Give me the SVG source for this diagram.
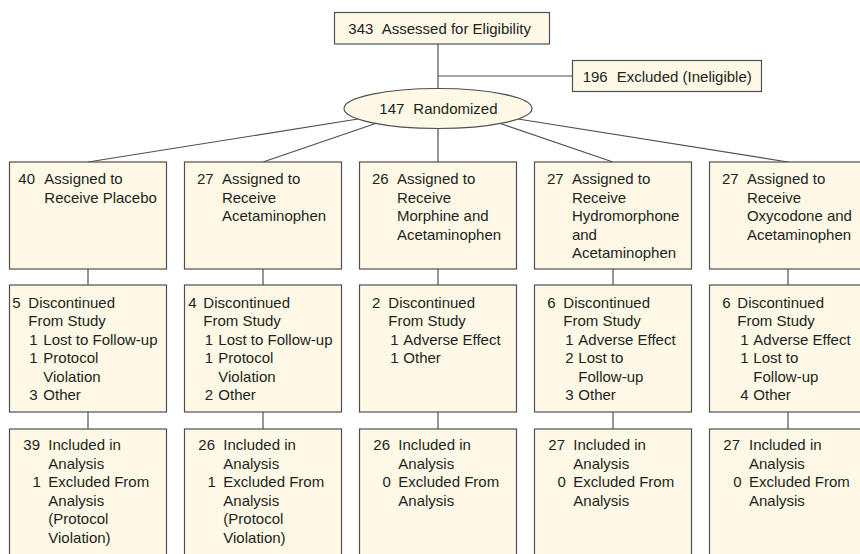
<svg xmlns="http://www.w3.org/2000/svg" width="860" height="554" viewBox="0 0 860 554">
<style>
.box{fill:#fdf9e6;stroke:#505050;stroke-width:1.2}
.ln{stroke:#505050;stroke-width:1.2;fill:none}
text{font-family:"Liberation Sans",Arial,Helvetica,sans-serif;font-size:15px;fill:#231f20}
</style>
<rect width="860" height="554" fill="#ffffff"/>
<g id="connectors">
<line class="ln" x1="438" y1="44" x2="438" y2="89"/>
<line class="ln" x1="438" y1="76" x2="572.5" y2="76"/>
<line class="ln" x1="358" y1="119" x2="88" y2="162"/>
<line class="ln" x1="377" y1="123" x2="263" y2="162"/>
<line class="ln" x1="438" y1="128" x2="438" y2="162"/>
<line class="ln" x1="499" y1="123" x2="613" y2="162"/>
<line class="ln" x1="518" y1="119" x2="788" y2="162"/>
<line class="ln" x1="88" y1="269" x2="88" y2="285"/>
<line class="ln" x1="263" y1="269" x2="263" y2="285"/>
<line class="ln" x1="438" y1="269" x2="438" y2="285"/>
<line class="ln" x1="613" y1="269" x2="613" y2="285"/>
<line class="ln" x1="788" y1="269" x2="788" y2="285"/>
<line class="ln" x1="88" y1="412" x2="88" y2="429"/>
<line class="ln" x1="263" y1="412" x2="263" y2="429"/>
<line class="ln" x1="438" y1="412" x2="438" y2="429"/>
<line class="ln" x1="613" y1="412" x2="613" y2="429"/>
<line class="ln" x1="788" y1="412" x2="788" y2="429"/>
</g>
<g id="assessed">
<rect class="box" x="334.5" y="12.5" width="215" height="31.5"/>
<text x="348.3" y="34">343</text><text x="381.7" y="34">Assessed for Eligibility</text>
</g>
<g id="excluded">
<rect class="box" x="572.5" y="60.5" width="189" height="31"/>
<text x="582.7" y="81.5">196</text><text x="616.7" y="81.5">Excluded (Ineligible)</text>
</g>
<g id="randomized">
<ellipse class="box" cx="438" cy="108.5" rx="94" ry="20"/>
<text x="379.3" y="114">147</text><text x="413.3" y="114">Randomized</text>
</g>

<!-- Row 1 -->
<g id="assign1">
<rect class="box" x="9.5" y="162" width="157" height="107"/>
<text x="18.3" y="184">40</text>
<text x="44.3" y="184">Assigned to</text>
<text x="44.3" y="202.5">Receive Placebo</text>
</g>
<g id="assign2">
<rect class="box" x="184.5" y="162" width="157" height="107"/>
<text x="196.9" y="184">27</text>
<text x="221.9" y="184">Assigned to</text>
<text x="221.9" y="202.5">Receive</text>
<text x="221.9" y="221">Acetaminophen</text>
</g>
<g id="assign3">
<rect class="box" x="359.5" y="162" width="157" height="107"/>
<text x="371.9" y="184">26</text>
<text x="396.9" y="184">Assigned to</text>
<text x="396.9" y="202.5">Receive</text>
<text x="396.9" y="221">Morphine and</text>
<text x="396.9" y="239.5">Acetaminophen</text>
</g>
<g id="assign4">
<rect class="box" x="534.5" y="162" width="157" height="107"/>
<text x="546.9" y="184">27</text>
<text x="571.9" y="184">Assigned to</text>
<text x="571.9" y="202.5">Receive</text>
<text x="571.9" y="221">Hydromorphone</text>
<text x="571.9" y="239.5">and</text>
<text x="571.9" y="258">Acetaminophen</text>
</g>
<g id="assign5">
<rect class="box" x="709.5" y="162" width="157" height="107"/>
<text x="721.9" y="184">27</text>
<text x="746.9" y="184">Assigned to</text>
<text x="746.9" y="202.5">Receive</text>
<text x="746.9" y="221">Oxycodone and</text>
<text x="746.9" y="239.5">Acetaminophen</text>
</g>

<!-- Row 2 -->
<g id="disc1">
<rect class="box" x="9.5" y="285" width="157" height="127"/>
<text x="12.3" y="307.7">5</text>
<text x="28.3" y="307.7">Discontinued</text>
<text x="28.3" y="326.2">From Study</text>
<text x="29.3" y="344.7">1</text><text x="43.3" y="344.7">Lost to Follow-up</text>
<text x="29.3" y="363.2">1</text><text x="43.3" y="363.2">Protocol</text>
<text x="43.3" y="381.7">Violation</text>
<text x="29.3" y="400.2">3</text><text x="43.3" y="400.2">Other</text>
</g>
<g id="disc2">
<rect class="box" x="184.5" y="285" width="157" height="127"/>
<text x="188.3" y="307.7">4</text>
<text x="203.3" y="307.7">Discontinued</text>
<text x="203.3" y="326.2">From Study</text>
<text x="204.8" y="344.7">1</text><text x="218.3" y="344.7">Lost to Follow-up</text>
<text x="204.8" y="363.2">1</text><text x="218.3" y="363.2">Protocol</text>
<text x="218.3" y="381.7">Violation</text>
<text x="204.8" y="400.2">2</text><text x="218.3" y="400.2">Other</text>
</g>
<g id="disc3">
<rect class="box" x="359.5" y="285" width="157" height="127"/>
<text x="371.9" y="307.7">2</text>
<text x="388.3" y="307.7">Discontinued</text>
<text x="388.3" y="326.2">From Study</text>
<text x="390.3" y="344.7">1</text><text x="403.3" y="344.7">Adverse Effect</text>
<text x="390.3" y="363.2">1</text><text x="403.3" y="363.2">Other</text>
</g>
<g id="disc4">
<rect class="box" x="534.5" y="285" width="157" height="127"/>
<text x="547.3" y="307.7">6</text>
<text x="563.3" y="307.7">Discontinued</text>
<text x="563.3" y="326.2">From Study</text>
<text x="565.3" y="344.7">1</text><text x="578.3" y="344.7">Adverse Effect</text>
<text x="565.3" y="363.2">2</text><text x="578.3" y="363.2">Lost to</text>
<text x="578.3" y="381.7">Follow-up</text>
<text x="565.3" y="400.2">3</text><text x="578.3" y="400.2">Other</text>
</g>
<g id="disc5">
<rect class="box" x="709.5" y="285" width="157" height="127"/>
<text x="722.3" y="307.7">6</text>
<text x="737.3" y="307.7">Discontinued</text>
<text x="737.3" y="326.2">From Study</text>
<text x="740.3" y="344.7">1</text><text x="753.3" y="344.7">Adverse Effect</text>
<text x="740.3" y="363.2">1</text><text x="753.3" y="363.2">Lost to</text>
<text x="753.3" y="381.7">Follow-up</text>
<text x="740.3" y="400.2">4</text><text x="753.3" y="400.2">Other</text>
</g>

<!-- Row 3 -->
<g id="incl1">
<rect class="box" x="9.5" y="429" width="157" height="140"/>
<text x="23.3" y="450">39</text><text x="48.3" y="450">Included in</text>
<text x="48.3" y="468.5">Analysis</text>
<text x="40.8" y="487" text-anchor="end">1</text><text x="48.3" y="487">Excluded From</text>
<text x="48.3" y="505.5">Analysis</text>
<text x="48.3" y="524">(Protocol</text>
<text x="48.3" y="542.5">Violation)</text>
</g>
<g id="incl2">
<rect class="box" x="184.5" y="429" width="157" height="140"/>
<text x="198.3" y="450">26</text><text x="223.3" y="450">Included in</text>
<text x="223.3" y="468.5">Analysis</text>
<text x="215.8" y="487" text-anchor="end">1</text><text x="223.3" y="487">Excluded From</text>
<text x="223.3" y="505.5">Analysis</text>
<text x="223.3" y="524">(Protocol</text>
<text x="223.3" y="542.5">Violation)</text>
</g>
<g id="incl3">
<rect class="box" x="359.5" y="429" width="157" height="140"/>
<text x="373.3" y="450">26</text><text x="398.3" y="450">Included in</text>
<text x="398.3" y="468.5">Analysis</text>
<text x="390.8" y="487" text-anchor="end">0</text><text x="398.3" y="487">Excluded From</text>
<text x="398.3" y="505.5">Analysis</text>
</g>
<g id="incl4">
<rect class="box" x="534.5" y="429" width="157" height="140"/>
<text x="548.3" y="450">27</text><text x="573.3" y="450">Included in</text>
<text x="573.3" y="468.5">Analysis</text>
<text x="565.8" y="487" text-anchor="end">0</text><text x="573.3" y="487">Excluded From</text>
<text x="573.3" y="505.5">Analysis</text>
</g>
<g id="incl5">
<rect class="box" x="709.5" y="429" width="157" height="140"/>
<text x="723.3" y="450">27</text><text x="749" y="450">Included in</text>
<text x="749" y="468.5">Analysis</text>
<text x="741.5" y="487" text-anchor="end">0</text><text x="749" y="487">Excluded From</text>
<text x="749" y="505.5">Analysis</text>
</g>
</svg>
